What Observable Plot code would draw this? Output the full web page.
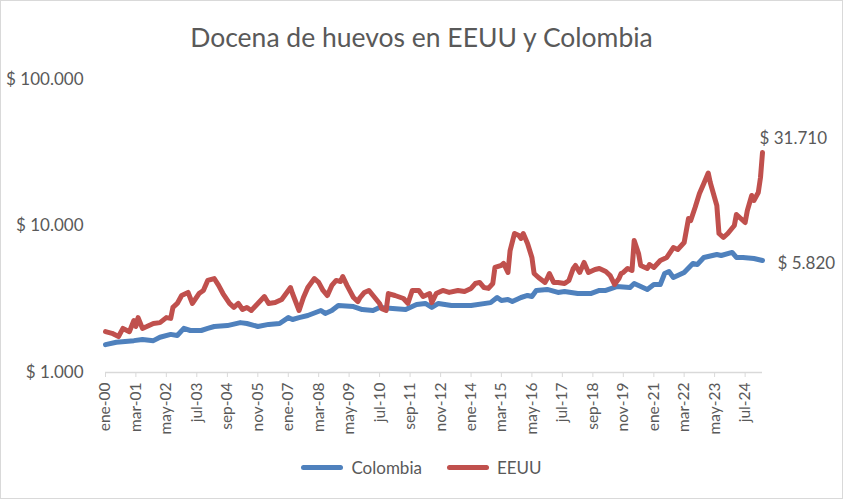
<!DOCTYPE html>
<html>
<head>
<meta charset="utf-8">
<script src="https://cdn.jsdelivr.net/npm/d3@7"></script>
<script src="https://cdn.jsdelivr.net/npm/@observablehq/plot@0.6"></script>
<style>
  html, body { margin: 0; padding: 0; background: #fff; }
  #chart {
    position: relative; width: 843px; height: 499px; background: #fff;
    box-shadow: inset 0 0 0 1px #d9d9d9; font-family: "Lato", "Open Sans", sans-serif; color: #595959;
    overflow: hidden;
  }
  #title { height: 60px; box-sizing: border-box; padding-top: 21px; text-align: center; font-size: 26.5px; line-height: 32px; color: #595959; }
  #legend { height: 54px; display: flex; justify-content: center; align-items: flex-start; padding-top: 11px; box-sizing: border-box; font-size: 17px; }
  .item { display: flex; align-items: center; height: 22px; }
  .sw { width: 42px; height: 5px; border-radius: 3px; margin-right: 8px; }
  #plot svg { display: block; background: transparent; }
</style>
</head>
<body>
<div id="chart">
  <div id="title"></div>
  <div id="plot"></div>
  <div id="legend"></div>
</div>
<script>
const title = "Docena de huevos en EEUU y Colombia";
const seriesNames = ["Colombia", "EEUU"];
const seriesColors = ["#4F81BD", "#C0504D"];

const colombiaMonths = ["2000-01","2000-06","2001-02","2001-06","2001-11","2002-02","2002-07","2002-10","2003-01","2003-04","2003-09","2003-12","2004-03","2004-09","2005-03","2005-06","2005-11","2006-04","2006-09","2007-01","2007-03","2007-06","2007-10","2008-04","2008-06","2008-09","2008-12","2009-07","2009-11","2010-04","2010-07","2011-01","2011-07","2011-12","2012-04","2012-07","2012-10","2013-04","2014-01","2014-10","2015-01","2015-03","2015-06","2015-08","2015-12","2016-03","2016-05","2016-07","2016-12","2017-05","2017-08","2018-02","2018-08","2018-12","2019-03","2019-08","2020-02","2020-04","2020-10","2021-01","2021-04","2021-06","2021-08","2021-10","2022-03","2022-07","2022-09","2022-12","2023-06","2023-08","2024-01","2024-03","2024-06","2024-11","2025-03"];
const colombiaValues = [1550,1610,1650,1680,1650,1740,1820,1790,2000,1935,1935,2000,2060,2090,2190,2160,2060,2130,2160,2370,2300,2370,2450,2650,2530,2650,2870,2820,2690,2650,2780,2730,2690,2910,2960,2780,2960,2870,2870,3000,3250,3100,3150,3050,3250,3355,3300,3630,3690,3520,3570,3460,3460,3630,3630,3860,3800,4050,3690,3990,3990,4740,4890,4450,4820,5550,5460,6100,6390,6290,6600,6100,6100,6000,5820];

const eeuuMonths = ["2000-01","2000-04","2000-07","2000-09","2000-12","2001-02","2001-03","2001-04","2001-06","2001-08","2001-11","2002-02","2002-05","2002-07","2002-08","2002-10","2002-12","2003-03","2003-05","2003-08","2003-10","2003-12","2004-03","2004-05","2004-07","2004-10","2004-12","2005-02","2005-04","2005-06","2005-08","2005-11","2006-02","2006-04","2006-07","2006-10","2007-02","2007-03","2007-06","2007-08","2007-10","2008-01","2008-03","2008-05","2008-07","2008-09","2008-11","2009-01","2009-02","2009-04","2009-07","2009-09","2009-10","2009-12","2010-02","2010-04","2010-07","2010-08","2010-10","2010-11","2011-02","2011-06","2011-08","2011-10","2012-01","2012-03","2012-06","2012-07","2012-09","2012-12","2013-03","2013-07","2013-10","2014-01","2014-03","2014-05","2014-07","2014-09","2014-11","2014-12","2015-03","2015-04","2015-06","2015-07","2015-09","2015-11","2015-12","2016-01","2016-03","2016-05","2016-06","2016-08","2016-11","2016-12","2017-01","2017-03","2017-05","2017-08","2017-10","2017-12","2018-01","2018-03","2018-05","2018-07","2018-10","2018-12","2019-03","2019-05","2019-07","2019-09","2019-10","2019-11","2020-01","2020-03","2020-04","2020-06","2020-07","2020-10","2020-11","2021-01","2021-04","2021-07","2021-10","2021-12","2022-03","2022-05","2022-06","2022-08","2022-10","2022-12","2023-02","2023-03","2023-06","2023-07","2023-09","2023-11","2024-02","2024-03","2024-05","2024-07","2024-08","2024-10","2024-11","2025-01","2025-02","2025-03"];
const eeuuValues = [1900,1850,1760,2000,1900,2265,2060,2370,2000,2060,2160,2190,2370,2340,2780,2960,3355,3520,2960,3460,3630,4250,4380,3930,3460,2960,2780,2960,2690,2780,2650,2960,3300,2960,3000,3150,3800,3460,2650,3250,3800,4380,4120,3630,3355,3930,4250,4180,4520,3930,3250,3050,3250,3520,3630,3355,2960,2730,2650,3460,3355,3200,2960,3630,3630,3300,3460,3000,3460,3630,3520,3630,3570,3750,4050,4120,3800,3750,4050,5210,5380,5550,4820,6800,8890,8610,8220,8890,7600,6100,4740,4450,4120,4380,4740,4120,4120,4050,4250,5130,5380,4820,5640,4820,5050,5130,4890,4590,3990,4380,4740,4820,5130,4970,7960,6490,5380,5130,5460,5210,5815,6100,7130,6910,7720,11250,10900,13370,16670,19500,23000,19800,13800,8890,8350,8890,10080,11980,11250,10560,12760,16150,14930,16930,21430,31710];

const xTickMonths = ["2000-01","2001-03","2002-05","2003-07","2004-09","2005-11","2007-01","2008-03","2009-05","2010-07","2011-09","2012-11","2014-01","2015-03","2016-05","2017-07","2018-09","2019-11","2021-01","2022-03","2023-05","2024-07"];
const xTickLabels = ["ene-00","mar-01","may-02","jul-03","sep-04","nov-05","ene-07","mar-08","may-09","jul-10","sep-11","nov-12","ene-14","mar-15","may-16","jul-17","sep-18","nov-19","ene-21","mar-22","may-23","jul-24"];
const yTicks = [1000, 10000, 100000];
const xDomain = ["2000-01", "2025-03"];

const parse = d3.utcParse("%Y-%m");
const fmt = v => "$ " + d3.format(",")(v).replace(/,/g, ".");

const data = [
  ...colombiaMonths.map((m, i) => ({date: parse(m), value: colombiaValues[i], serie: seriesNames[0]})),
  ...eeuuMonths.map((m, i) => ({date: parse(m), value: eeuuValues[i], serie: seriesNames[1]}))
];
const lastCol = {date: parse(colombiaMonths.at(-1)), value: colombiaValues.at(-1)};
const lastUs = {date: parse(eeuuMonths.at(-1)), value: eeuuValues.at(-1)};
const tickDates = xTickMonths.map(parse);
const labelMap = new Map(tickDates.map((d, i) => [+d, xTickLabels[i]]));

document.getElementById("title").textContent = title;

const chart = Plot.plot({
  width: 843,
  height: 385,
  marginLeft: 105,
  marginRight: 81,
  marginTop: 19,
  marginBottom: 73,
  style: {fontFamily: "Lato, 'Open Sans', sans-serif", color: "#595959", background: "transparent", overflow: "visible"},
  x: {type: "utc", domain: xDomain.map(parse)},
  y: {type: "log", domain: [1000, 100000]},
  color: {domain: seriesNames, range: seriesColors},
  marks: [
    Plot.ruleY([1000], {stroke: "#d9d9d9", strokeWidth: 1.3}),
    Plot.axisY(yTicks, {tickFormat: fmt, tickSize: 0, tickPadding: 22, fontSize: 17, fill: "#595959", label: null}),
    Plot.axisX(tickDates, {tickFormat: d => labelMap.get(+d), tickRotate: -90, tickSize: 5, tickPadding: 5, stroke: "#d9d9d9", fill: "#595959", fontSize: 15.5, label: null}),
    Plot.line(data, {x: "date", y: "value", z: "serie", stroke: "serie", strokeWidth: 5, strokeLinejoin: "round", strokeLinecap: "round"}),
    Plot.text([lastUs], {x: "date", y: "value", text: d => fmt(d.value), textAnchor: "start", dx: -3, dy: -14, fontSize: 17, fill: "#595959"}),
    Plot.text([lastCol], {x: "date", y: "value", text: d => fmt(d.value), textAnchor: "start", dx: 15, dy: 3, fontSize: 17, fill: "#595959"})
  ]
});
document.getElementById("plot").appendChild(chart);

const legend = document.getElementById("legend");
seriesNames.forEach((name, i) => {
  const item = document.createElement("div");
  item.className = "item";
  item.style.marginRight = i === 0 ? "25px" : "0";
  const sw = document.createElement("div");
  sw.className = "sw";
  sw.style.background = seriesColors[i];
  const t = document.createElement("span");
  t.textContent = name;
  item.appendChild(sw); item.appendChild(t);
  legend.appendChild(item);
});
</script>
</body>
</html>
